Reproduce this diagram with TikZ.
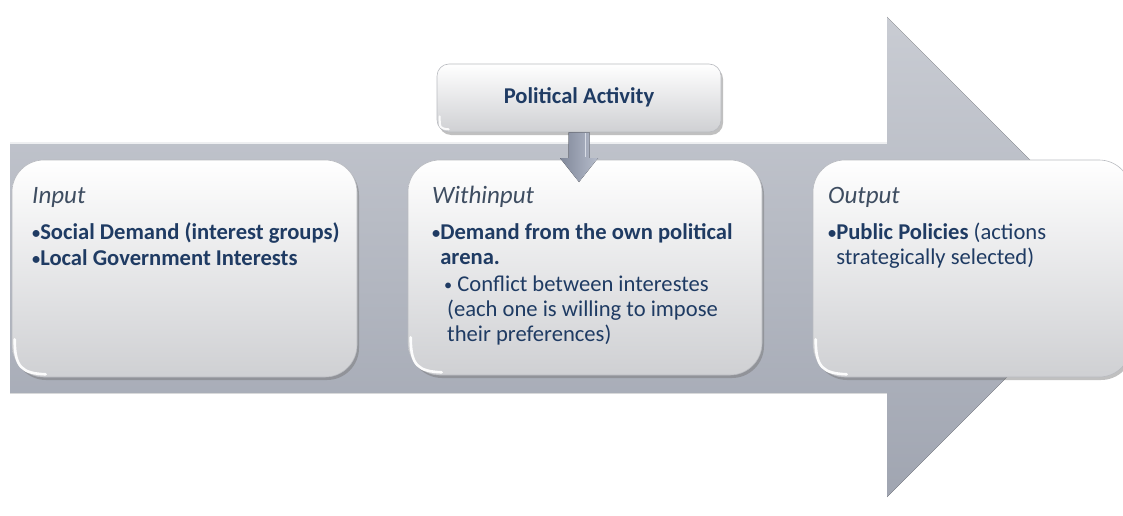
\documentclass[tikz,border=0pt]{standalone}
\usepackage{fontspec}
\setmainfont{Carlito}
\usetikzlibrary{calc,shadows}

\definecolor{arrowtop}{HTML}{C9CCD3}
\definecolor{arrowbot}{HTML}{A0A5B1}
\definecolor{panelbot}{HTML}{CFD0D3}
\definecolor{panelrim}{HTML}{B9BBC0}
\definecolor{navytext}{HTML}{1F3B63}
\definecolor{headtext}{HTML}{3E4D61}
\definecolor{dropfill}{HTML}{97A0B5}
\definecolor{dropedge}{HTML}{D9DDE6}

% a small bullet, as set in the slide
\newcommand{\smallbul}{\raisebox{0.5pt}{\scalebox{0.72}{•}}}

\tikzset{
  panel/.style={rectangle, rounded corners=32pt, draw=panelrim, line width=0.6pt,
    top color=white, bottom color=panelbot, inner sep=0pt,
    drop shadow={shadow xshift=2pt, shadow yshift=-3pt, opacity=0.45, fill=black!55}},
  smallpanel/.style={panel, rounded corners=12pt},
  gloss/.style={white, line width=2.6pt, line cap=round, opacity=0.95},
  heading/.style={anchor=base west, inner sep=0pt, text=headtext,
    font=\fontsize{25}{29}\selectfont\itshape},
  item/.style={anchor=base west, inner sep=0pt, text=navytext,
    font=\fontsize{22.6}{26}\selectfont\bfseries},
  subitem/.style={anchor=base west, inner sep=0pt, text=navytext,
    font=\fontsize{22.6}{26}\selectfont},
}

\begin{document}
\begin{tikzpicture}[x=1pt,y=-1pt]
  \useasboundingbox (0,0) rectangle (1123,516);
  \clip (0,0) rectangle (1123,516);

  % large process arrow
  \fill[top color=arrowtop, bottom color=arrowbot]
    (10,142) -- (887,142) -- (887,17) -- (1127,257) -- (887,497)
    -- (887,393) -- (10,393) -- cycle;
  \draw[white, opacity=0.75, line width=1.6pt] (10,143) -- (887,143);

  % three stages
  \node[panel, minimum width=345pt, minimum height=217pt] (inbox)  at (184.5,268.5) {};
  \node[panel, minimum width=354pt, minimum height=215pt] (wibox)  at (585,267.5) {};
  \node[panel, minimum width=318pt, minimum height=217pt] (outbox) at (972,268.5) {};

  % glossy highlight in the lower left corner of each stage
  \foreach \b in {inbox,wibox,outbox}{
    \draw[gloss] ($(\b.south west)+(3,-38)$)
      .. controls ($(\b.south west)+(3,-10)$) and ($(\b.south west)+(10,-4)$)
      .. ($(\b.south west)+(34,-3)$);
  }

  % political activity box and its down arrow
  \node[smallpanel, minimum width=284pt, minimum height=68pt] (pabox) at (579,98) {};
  \draw[white, line width=2pt, line cap=round, opacity=0.9]
    ($(pabox.south west)+(3,-16)$) .. controls ($(pabox.south west)+(3,-4)$) .. ($(pabox.south west)+(12,-3)$);
  \node[inner sep=0pt, anchor=base, text=navytext,
        font=\fontsize{22.6}{26}\selectfont\bfseries] (patext) at (579,103) {Political Activity};

  \coordinate (droptip) at (579,182);
  \fill[left color=dropfill!85!black, right color=dropfill!70!white]
    ($(pabox.south)+(-10.5,0)$) -- ($(pabox.south)+(10.5,0)$)
    -- ($(droptip)+(10.5,-24)$) -- ($(droptip)+(19,-24)$) -- (droptip)
    -- ($(droptip)+(-19,-24)$) -- ($(droptip)+(-10.5,-24)$) -- cycle;
  \draw[dropedge, line width=1.6pt] ($(pabox.south)+(6.5,1)$) -- ($(droptip)+(6.5,-25)$);

  % Input
  \node[heading] (inhead) at (32,203) {Input};
  \node[item] (in1) at (32,239) {\smallbul Social Demand (interest groups)};
  \node[item] (in2) at (32,265) {\smallbul Local Government Interests};

  % Withinput
  \node[heading] (wihead) at (432,203) {Withinput};
  \node[item] (wi1) at (432,239) {\smallbul Demand from the own political};
  \node[item] (wi2) at (432,264) {\hphantom{\smallbul}arena.};
  \node[subitem] (wi3) at (444,291) {\smallbul\ Conflict between interestes};
  \node[subitem] (wi4) at (447,316) {(each one is willing to impose};
  \node[subitem] (wi5) at (447,341) {their preferences)};

  % Output
  \node[heading] (outhead) at (828,203) {Output};
  \node[subitem] (out1) at (828,239) {\textbf{\smallbul Public Policies} (actions};
  \node[subitem] (out2) at (828,264) {\hphantom{\textbf{\smallbul}}strategically selected)};
\end{tikzpicture}
\end{document}
